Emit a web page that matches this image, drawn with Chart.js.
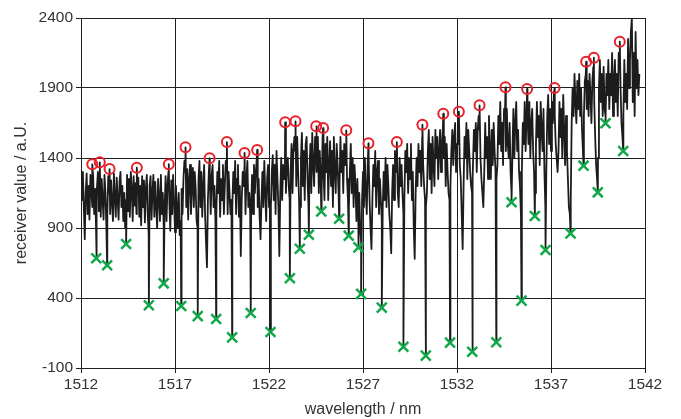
<!DOCTYPE html>
<html>
<head>
<meta charset="utf-8">
<script src="https://cdn.jsdelivr.net/npm/chart.js@4/dist/chart.umd.min.js"></script>
<style>
  html, body { margin: 0; padding: 0; background: #fff; }
  #wrap { width: 681px; height: 419px; }
</style>
</head>
<body>
<div id="wrap"><canvas id="chart" width="681" height="419"></canvas></div>
<script>
// ─── DATOS ────────────────────────────────────────────────────────────────
const xTicks = [1512, 1517, 1522, 1527, 1532, 1537, 1542];
const yTicks = [-100, 400, 900, 1400, 1900, 2400];

// receiver signal, one sample every 0.05 nm from 1512.00 nm (20 per row = 1 nm)
const signalStart = 1512.0;
const signalStep  = 0.05;
const signal = [
  1100,1250,1300,1050, 820,1150,1290,1000,1200, 960,1280,1180,1050,1260,1000,1180, 900,1150,1300,1020, // 1512
  1200, 980,1250,1100, 960,1280,1150, 900,1000,1270,1150,1000,1240,1080, 950,1290,1120, 980,1260,1100, // 1513
   960,1230,1300,1050,1200, 950,1150, 900,1100,1280,1020,1250, 980,1300,1180, 950,1270,1060,1220,1000, // 1514
  1150,1260, 980,1200, 920,1270,1050,1240, 940,1180,1280,1000, 850,1200,1270, 960,1150,1280, 980,1230, // 1515
  1050, 900,1250,1120, 950,1280,1000,1150, 900,1050,1270, 950,1200,1300,1080, 880,1240,1000,1280,1100, // 1516
   870,1200,1050, 900,1150, 850, 950,1180,1000,1250,1380,1300,1050,1320, 960,1250,1350,1000,1200,1330, // 1517
  1050,1300,1180, 950, 900,1250,1380,1050,1300, 980,1200,1350,1000, 800, 620,1100,1300,1250,1000,1280, // 1518
  1350,1050,1200, 950,1000,1300,1150,1380, 980,1250,1100,1350,1000,1200,1380,1300,1000,1300,1150,1000, // 1519
  1100,1050,1300,1150,1380,1000,1250,1350, 980,1200, 700,1100,1300,1200,1350,1000,1250,1380,1050,1150, // 1520
  1000,1050,1280,1000,1350,1150,1300,1400,1050,1250, 980, 820,1100,1300,1050,1380,1150, 950,1250,1350, // 1521
  1050,1100,1050,1300,1420,1100,1350,1000,1450,1250,1050, 700,1150,1400,1100,1350,1250,1450,1150,1350, // 1522
  1400,1200,1100,1300,1500,1150,1450,1550,1450,1200,1550,1300,1100,1050,1400,1580,1200,1450,1100,1500, // 1523
  1550,1250,1050,1300,1500,1150,1580,1350,1200,1550,1450,1300,1550,1150,1450,1250,1150,1550,1300,1100, // 1524
  1500,1300,1550,1100,1350,1520,1200,1450,1050,1550,1300,1150,1500,1350,1150,1200,1550,1300,1450,1150, // 1525
  1500,1350,1500,1250,1100,1050,1300,1500,1150,1400,1050,1350,1200, 950,1250,1000,1150, 900, 800,1100, // 1526
  1300,1050,1400,1150,1000,1350,1400,1100, 900, 750,1100,1350,1200,1450,1050,1300,1380,1000,1250,1100, // 1527
   950,1050,1300,1100,1400,1050,1350,1200,1000, 900, 720,1150,1350,1100,1450,1300,1400,1150,1050,1400, // 1528
  1200,1350,1150,1000,1100,1450,1300,1500,1150,1400,1250,1500,1100,1300, 900, 680,1150,1400,1200,1500, // 1529
  1300,1450,1200,1550,1350,1200,1100,1050,1150,1450,1600,1250,1500,1150,1550,1350,1200,1600,1400,1550, // 1530
  1250,1450,1600,1300,1500,1620,1400,1550,1200,1500,1300,1150,1100,1200,1450,1600,1350,1550,1650,1300, // 1531
  1500,1650,1550,1350,1250,1000, 750,1200,1550,1400,1650,1250,1600,1450,1300,1200,1150,1250,1600,1450, // 1532
  1650,1300,1600,1700,1600,1400,1250,1150,1050,1300,1650,1400,1550,1250,1700,1450,1250,1600,1350,1650, // 1533
  1450,1300,1250,1350,1700,1500,1800,1450,1650,1350,1750,1700,1450,1750,1500,1400,1650,1300,1150,1450, // 1534
  1750,1400,1650,1800,1450,1600,1300,1200,1000,1300,1650,1500,1800,1450,1700,1750,1500,1800,1400,1650, // 1535
  1750,1450,1300,1150,1500,1800,1550,1700,1350,1800,1600,1450,1750,1300,1050,1300,1700,1850,1500,1750, // 1536
  1450,1800,1650,1850,1700,1500,1400,1300,1450,1800,1550,1750,1400,1850,1600,1350,1700,1450,1250,1050, // 1537
  1000,1100,1650,1900,1700,2000,1800,1650,1950,1750,2000,1700,1900,1600,1450,1700,1950,2000,1750,1950, // 1538
  1700,2000,1850,1650,1950,2050,1800,1550,1350,1250,1400,1900,2100,1800,2000,1700,2050,1750,1700,2000, // 1539
  1850,2100,1750,2000,1850,2150,1700,1950,2100,1800,2000,1700,2150,2100,1900,1650,1550,1700,2100,1800, // 1540
  2000,1750,2250,1900,2100,2300,2400,1800,2150,1700,2300,1900,2100,1850,2000                           // 1541
];

// marked maxima (red circles)
const peakWavelength = [1512.60,1513.00,1513.52,1514.97,1516.67,1517.56,1518.84,1519.76,1520.70,
  1521.37,1522.86,1523.41,1524.51,1524.88,1526.11,1527.29,1528.80,1530.16,1531.27,1532.10,
  1533.20,1534.58,1535.73,1537.19,1538.87,1539.28,1540.66];
const peakValue = [1355,1369,1321,1331,1356,1476,1398,1514,1436,
  1457,1655,1662,1626,1614,1598,1505,1514,1638,1716,1731,
  1776,1905,1893,1900,2088,2116,2231];

// marked minima (green crosses)
const dipWavelength = [1512.81,1513.39,1514.40,1515.61,1516.40,1517.33,1518.21,1519.19,1520.04,
  1521.03,1522.08,1523.11,1523.64,1524.12,1524.78,1525.73,1526.24,1526.76,1526.90,1528.00,
  1529.15,1530.34,1531.63,1532.81,1534.09,1534.90,1535.43,1536.14,1536.71,1538.04,1538.73,
  1539.49,1539.90,1540.84];
const dipValue = [684,634,786,348,505,343,271,250,119,
  293,157,541,752,852,1019,966,845,762,429,331,
  52,-12,81,16,84,1084,381,986,743,862,1345,
  1155,1648,1450];

// ─── PUNTOS ───────────────────────────────────────────────────────────────
const peaks = peakWavelength.map((x, i) => ({ x, y: peakValue[i] }));
const dips  = dipWavelength.map((x, i) => ({ x, y: dipValue[i] }));
const samples = signal.map((y, i) => ({ x: +(signalStart + i * signalStep).toFixed(2), y }));
const trace = samples.concat(peaks, dips).sort((a, b) => a.x - b.x);

const FONT = "'Liberation Sans', Arial, sans-serif";
const INK  = "#333";
const GRID = "#1e1e1e";

new Chart(document.getElementById("chart"), {
  type: "scatter",
  data: {
    datasets: [
      {
        label: "maxima",
        data: peaks,
        pointStyle: "circle",
        pointRadius: 5,
        pointBorderWidth: 2,
        pointBorderColor: "#e8202a",
        pointBackgroundColor: "rgba(0,0,0,0)",
        order: 0
      },
      {
        label: "minima",
        data: dips,
        pointStyle: "crossRot",
        pointRadius: 7,
        pointBorderWidth: 2.5,
        pointBorderColor: "#12a84a",
        order: 1
      },
      {
        label: "signal",
        data: trace,
        showLine: true,
        borderColor: "#1c1c1c",
        borderWidth: 1.8,
        borderJoinStyle: "round",
        pointRadius: 0,
        tension: 0,
        order: 2
      }
    ]
  },
  options: {
    responsive: false,
    animation: false,
    events: [],
    layout: { padding: { top: 18, right: 36, bottom: 0, left: 0 } },
    plugins: { legend: { display: false }, tooltip: { enabled: false } },
    scales: {
      x: {
        type: "linear",
        min: 1512,
        max: 1542,
        afterBuildTicks: (axis) => { axis.ticks = xTicks.map(v => ({ value: v })); },
        afterFit: (scale) => { scale.height = 51; },
        grid: { color: GRID, lineWidth: 1, tickLength: 5, tickColor: GRID },
        border: { color: GRID, width: 1 },
        ticks: { color: INK, font: { family: FONT, size: 15.5 }, padding: 2, maxRotation: 0, callback: v => String(v) },
        title: {
          display: true,
          text: "wavelength / nm",
          color: INK,
          font: { family: FONT, size: 16 },
          padding: { top: 0, bottom: 0 }
        }
      },
      y: {
        type: "linear",
        min: -100,
        max: 2400,
        afterBuildTicks: (axis) => { axis.ticks = yTicks.map(v => ({ value: v })); },
        afterFit: (scale) => { scale.width = 81; },
        grid: { color: GRID, lineWidth: 1, tickLength: 5, tickColor: GRID },
        border: { color: GRID, width: 1 },
        ticks: { color: INK, font: { family: FONT, size: 15.5 }, padding: 3, callback: v => String(v) },
        title: {
          display: true,
          text: "receiver value / a.U.",
          color: INK,
          font: { family: FONT, size: 16 },
          padding: { top: 12, bottom: 0 }
        }
      }
    }
  }
});
</script>
</body>
</html>
